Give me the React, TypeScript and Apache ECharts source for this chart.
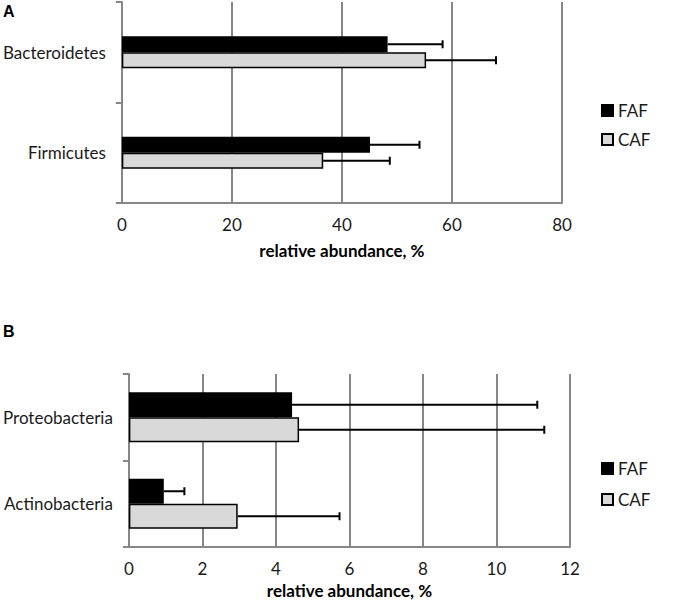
import React, { useEffect, useRef } from 'react';
import * as echarts from 'echarts';

const categoriesA = ['Bacteroidetes', 'Firmicutes'];
const fafA = [48.3, 45.1];
const fafErrA = [10.0, 9.0];
const cafA = [55.3, 36.6];
const cafErrA = [12.7, 12.1];
const axisA = [0, 80, 20];

const categoriesB = ['Proteobacteria', 'Actinobacteria'];
const fafB = [4.44, 0.95];
const fafErrB = [6.67, 0.56];
const cafB = [4.63, 2.96];
const cafErrB = [6.67, 2.77];
const axisB = [0, 12, 2];

const seriesNames = ['FAF', 'CAF'];
const xTitle = 'relative abundance, %';

const FONT = 'Lato';
const GRID_COLOR = '#878787';

function errorRender(bw: number, sign: number) {
  return (params: any, api: any) => {
    const cat = api.value(0);
    const mean = api.value(1);
    const err = api.value(2);
    const p0 = api.coord([mean, cat]);
    const p1 = api.coord([mean + err, cat]);
    const y = p0[1] + (sign * bw) / 2;
    return {
      type: 'group',
      children: [
        { type: 'line', shape: { x1: p0[0], y1: y, x2: p1[0], y2: y }, style: { stroke: '#000', lineWidth: 2 } },
        { type: 'line', shape: { x1: p1[0], y1: y - 4, x2: p1[0], y2: y + 4 }, style: { stroke: '#000', lineWidth: 2 } },
      ],
    };
  };
}

export default function App() {
  const ref = useRef<HTMLDivElement>(null);
  useEffect(() => {
    if (!ref.current) return;
    const chart = echarts.init(ref.current, undefined, { renderer: 'svg' });
    const bwA = 16;
    const bwB = 25;
    const xAxisCommon = (range: number[], nameGap: number, gridIndex: number) => ({
      type: 'value',
      gridIndex,
      min: range[0],
      max: range[1],
      interval: range[2],
      axisLine: { show: true, lineStyle: { color: GRID_COLOR, width: 2 } },
      axisTick: { show: false },
      splitLine: { show: true, lineStyle: { color: GRID_COLOR, width: 2 } },
      axisLabel: { color: '#1a1a1a', fontSize: 17, fontFamily: FONT, margin: 13 },
      name: xTitle,
      nameLocation: 'middle',
      nameGap,
      nameTextStyle: { color: '#000', fontSize: 17, fontWeight: 'bold', fontFamily: FONT },
    });
    const yAxisCommon = (cats: string[], gridIndex: number, margin: number) => ({
      type: 'category',
      gridIndex,
      data: cats,
      inverse: true,
      axisLine: { show: true, lineStyle: { color: GRID_COLOR, width: 2 } },
      axisTick: { show: true, length: 6, lineStyle: { color: GRID_COLOR, width: 2 } },
      axisLabel: { color: '#1a1a1a', fontSize: 17, fontFamily: FONT, margin },
    });
    const barItem = (i: number) =>
      i === 0
        ? { color: '#000000', borderColor: '#000', borderWidth: 1.5 }
        : { color: '#d9d9d9', borderColor: '#000', borderWidth: 1.5 };
    const legendCommon = (top: number, gap: number) => ({
      data: seriesNames.map((n) => ({ name: n, icon: 'rect' })),
      orient: 'vertical',
      left: 596,
      top,
      itemWidth: 11,
      itemHeight: 11,
      itemGap: gap,
      textStyle: { color: '#1a1a1a', fontSize: 17, fontFamily: FONT },
      selectedMode: false,
    });
    chart.setOption({
      animation: false,
      grid: [
        { left: 121, top: 2, width: 441, height: 201 },
        { left: 128, top: 374, width: 442, height: 173 },
      ],
      xAxis: [xAxisCommon(axisA, 39, 0), xAxisCommon(axisB, 35, 1)],
      yAxis: [yAxisCommon(categoriesA, 0, 16), yAxisCommon(categoriesB, 1, 16)],
      legend: [legendCommon(97, 12), legendCommon(455, 14)],
      graphic: [
        { type: 'text', left: 3, top: 3, style: { text: 'A', fontSize: 16, fontWeight: 'bold', fontFamily: 'Liberation Sans', fill: '#000' } },
        { type: 'text', left: 3, top: 323, style: { text: 'B', fontSize: 16, fontWeight: 'bold', fontFamily: 'Liberation Sans', fill: '#000' } },
      ],
      series: [
        { name: 'FAF', type: 'bar', xAxisIndex: 0, yAxisIndex: 0, data: fafA, barWidth: bwA, barGap: '0%', itemStyle: barItem(0) },
        { name: 'CAF', type: 'bar', xAxisIndex: 0, yAxisIndex: 0, data: cafA, barWidth: bwA, barGap: '0%', itemStyle: barItem(1) },
        { name: 'FAF', type: 'bar', xAxisIndex: 1, yAxisIndex: 1, data: fafB, barWidth: bwB, barGap: '0%', itemStyle: barItem(0) },
        { name: 'CAF', type: 'bar', xAxisIndex: 1, yAxisIndex: 1, data: cafB, barWidth: bwB, barGap: '0%', itemStyle: barItem(1) },
        {
          name: 'errFAF_A', type: 'custom', xAxisIndex: 0, yAxisIndex: 0, z: 5,
          renderItem: errorRender(bwA, -1),
          encode: { y: 0, x: [1, 2] },
          data: fafA.map((v, i) => [i, v, fafErrA[i]]),
        },
        {
          name: 'errCAF_A', type: 'custom', xAxisIndex: 0, yAxisIndex: 0, z: 5,
          renderItem: errorRender(bwA, 1),
          encode: { y: 0, x: [1, 2] },
          data: cafA.map((v, i) => [i, v, cafErrA[i]]),
        },
        {
          name: 'errFAF_B', type: 'custom', xAxisIndex: 1, yAxisIndex: 1, z: 5,
          renderItem: errorRender(bwB, -1),
          encode: { y: 0, x: [1, 2] },
          data: fafB.map((v, i) => [i, v, fafErrB[i]]),
        },
        {
          name: 'errCAF_B', type: 'custom', xAxisIndex: 1, yAxisIndex: 1, z: 5,
          renderItem: errorRender(bwB, 1),
          encode: { y: 0, x: [1, 2] },
          data: cafB.map((v, i) => [i, v, cafErrB[i]]),
        },
      ],
    });
    return () => chart.dispose();
  }, []);
  return (
    <div
      ref={ref}
      style={{ position: 'absolute', left: 0, top: 0, width: 675, height: 609, background: '#fff' }}
    />
  );
}
